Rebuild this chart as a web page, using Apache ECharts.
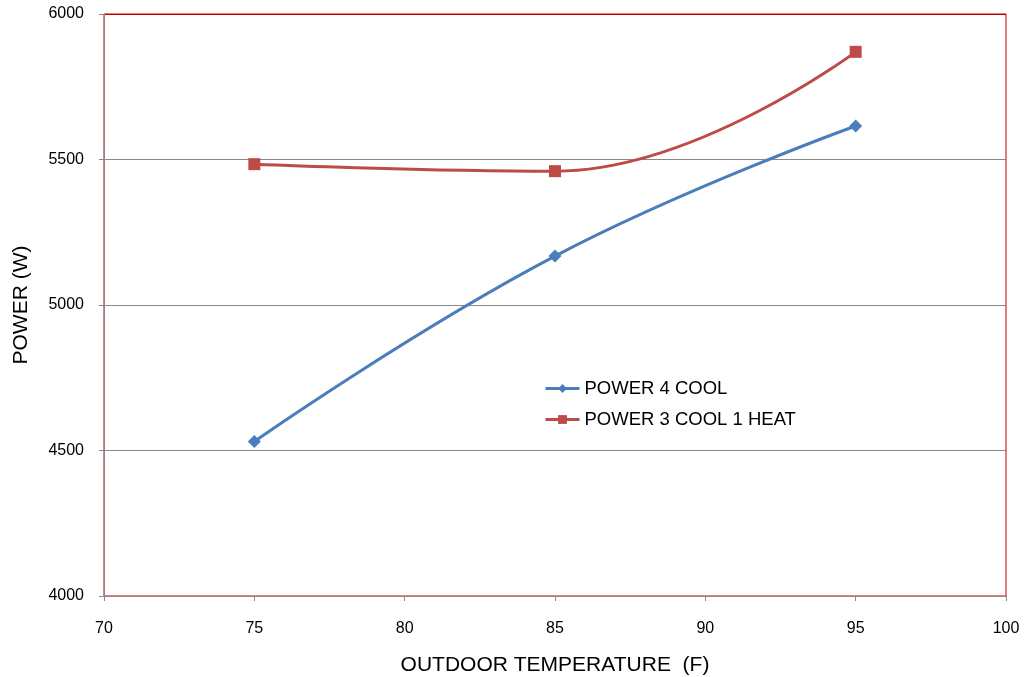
<!DOCTYPE html>
<html>
<head>
<meta charset="utf-8">
<script src="https://cdn.jsdelivr.net/npm/echarts@6/dist/echarts.min.js"></script>
<style>
  html, body { margin: 0; padding: 0; background: #fff; }
  #chart { width: 1025px; height: 677px; }
</style>
</head>
<body>
<div id="chart"></div>
<script>
// Outdoor temperature (F) and measured power draw (W)
const temperatures = [75, 85, 95];
const power4Cool = [4531, 5168, 5615];
const power3Cool1Heat = [5484, 5460, 5870];
const seriesNames = ['POWER 4 COOL', 'POWER 3 COOL 1 HEAT'];

const pairs = (xs, ys) => xs.map((x, i) => [x, ys[i]]);

const chart = echarts.init(document.getElementById('chart'));
const font = 'Liberation Sans, Arial, sans-serif';
const frameRed = '#c00000';

chart.setOption({
  animation: false,
  grid: {
    left: 104, top: 14, right: 19, bottom: 81,
    outerBoundsMode: 'none',
    containLabel: false,
    show: true, borderColor: frameRed, borderWidth: 1
  },
  legend: {
    orient: 'vertical',
    left: 544, top: 379,
    padding: 0,
    itemGap: 12,
    itemWidth: 34, itemHeight: 11,
    lineStyle: { width: 3 },
    textStyle: { fontFamily: font, fontSize: 18.5, color: '#000' },
    data: seriesNames
  },
  xAxis: {
    type: 'value',
    min: 70, max: 100, interval: 5,
    name: 'OUTDOOR TEMPERATURE  (F)',
    nameLocation: 'middle',
    nameGap: 59,
    nameTextStyle: { fontFamily: font, fontSize: 21, color: '#000' },
    axisLine: { show: true, lineStyle: { color: '#9a8686', width: 1 } },
    axisTick: { show: true, length: 5, lineStyle: { color: '#888' } },
    axisLabel: { fontFamily: font, fontSize: 16, color: '#000', margin: 25 },
    splitLine: { show: false }
  },
  yAxis: {
    type: 'value',
    min: 4000, max: 6000, interval: 500,
    name: 'POWER (W)',
    nameLocation: 'middle',
    nameGap: 72,
    nameTextStyle: { fontFamily: font, fontSize: 21, color: '#000' },
    axisLine: { show: true, lineStyle: { color: '#888', width: 1 } },
    axisTick: { show: true, length: 5, lineStyle: { color: '#888' } },
    axisLabel: { fontFamily: font, fontSize: 16, color: '#000', margin: 20, formatter: v => String(v) },
    // the top line doubles as the red frame edge
    splitLine: { show: true, lineStyle: { color: ['#888', '#888', '#888', '#888', frameRed], width: 1 } }
  },
  series: [
    {
      name: seriesNames[0],
      type: 'line',
      data: pairs(temperatures, power4Cool),
      smooth: 0.45,
      symbol: 'diamond',
      symbolSize: 13,
      lineStyle: { color: '#4a7ebb', width: 3 },
      itemStyle: { color: '#4a7ebb' }
    },
    {
      name: seriesNames[1],
      type: 'line',
      data: pairs(temperatures, power3Cool1Heat),
      smooth: 0.45,
      symbol: 'rect',
      symbolSize: 12,
      lineStyle: { color: '#be4b48', width: 3 },
      itemStyle: { color: '#be4b48' }
    }
  ]
});
</script>
</body>
</html>
